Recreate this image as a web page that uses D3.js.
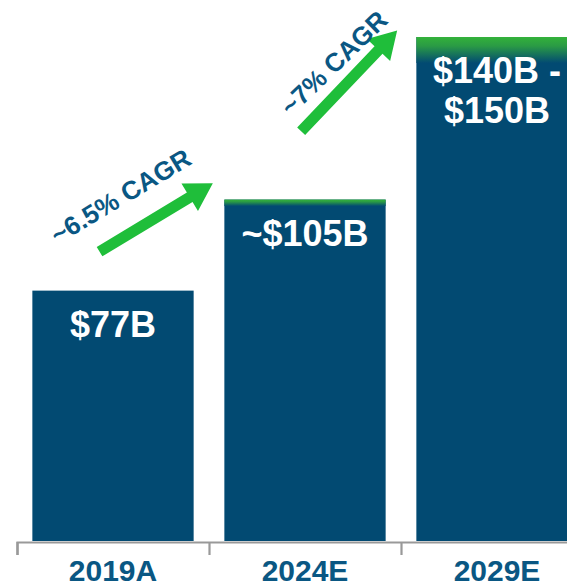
<!DOCTYPE html>
<html>
<head>
<meta charset="utf-8">
<script src="https://cdn.jsdelivr.net/npm/d3@7/dist/d3.min.js"></script>
<style>
  html, body { margin: 0; padding: 0; background: #fff; }
  svg { display: block; font-family: "Liberation Sans", Arial, sans-serif; }
</style>
</head>
<body>
<div id="chart"></div>
<script>
// chart data
const categories = ["2019A", "2024E", "2029E"];
const barLow = [77, 103, 147];    // where the green "range" cap starts
const barHigh = [77, 105, 155];   // top of bar
const valueLabels = [["$77B"], ["~$105B"], ["$140B -", "$150B"]];
const cagrLabels = ["~6.5% CAGR", "~7% CAGR"];
// growth arrows in (category index, value) space
const arrowFrom = [[0.43, 89], [1.48, 126]];
const arrowTo = [[1.02, 110], [1.98, 157]];
const cagrPos = [[0.54, 106], [1.65, 147]];
const cagrAngle = [-31, -44];

const w = 567, h = 588;
const baseY = 541;
const navy = "#024a72";
const labelBlue = "#0a5783";
const green = "#1fbe3a";

const svg = d3.select("#chart").append("svg")
  .attr("width", w)
  .attr("height", h);

// index scale spans the band boundaries (ticks sit between categories)
const xIdx = d3.scaleLinear().domain([0, 3]).range([17, 593]);
const x = d3.scaleBand()
  .domain(categories)
  .range([17, 593])
  .paddingInner(0.16)
  .paddingOuter(0.08);

const y = d3.scaleLinear().domain([0, 155]).range([baseY, 37]);

const defs = svg.append("defs");
const grad = defs.append("linearGradient")
  .attr("id", "cap")
  .attr("x1", 0).attr("y1", 0).attr("x2", 0).attr("y2", 1);
grad.append("stop").attr("offset", "0%").attr("stop-color", "#33b23a");
grad.append("stop").attr("offset", "35%").attr("stop-color", "#2a9a45");
grad.append("stop").attr("offset", "100%").attr("stop-color", navy);

const data = categories.map((c, i) => ({ cat: c, low: barLow[i], high: barHigh[i], lab: valueLabels[i] }));

// bars
svg.selectAll("rect.bar")
  .data(data)
  .enter()
  .append("rect")
  .attr("class", "bar")
  .attr("x", d => x(d.cat))
  .attr("y", d => y(d.high))
  .attr("width", x.bandwidth())
  .attr("height", d => baseY - y(d.high))
  .attr("fill", navy);

// green caps for estimated ranges
svg.selectAll("rect.cap")
  .data(data.filter(d => d.high > d.low))
  .enter()
  .append("rect")
  .attr("class", "cap")
  .attr("x", d => x(d.cat))
  .attr("y", d => y(d.high))
  .attr("width", x.bandwidth())
  .attr("height", d => y(d.low) - y(d.high))
  .attr("fill", "url(#cap)");

// value labels inside bars
data.forEach(d => {
  const t = svg.append("text")
    .attr("x", x(d.cat) + x.bandwidth() / 2)
    .attr("y", y(d.high) + 46)
    .attr("text-anchor", "middle")
    .attr("fill", "#fff")
    .attr("font-weight", "bold")
    .attr("font-size", 36);
  d.lab.forEach((line, j) => {
    t.append("tspan")
      .attr("x", x(d.cat) + x.bandwidth() / 2)
      .attr("dy", j === 0 ? 0 : 40)
      .text(line);
  });
});

// axis
const xAxis = d3.axisBottom(xIdx)
  .tickValues([0, 1, 2, 3])
  .tickFormat("")
  .tickSize(13)
  .tickSizeOuter(13);

const gx = svg.append("g")
  .attr("transform", `translate(0, ${baseY + 1})`)
  .call(xAxis);
gx.selectAll("path, line").attr("stroke", "#999").attr("stroke-width", 2.2);

svg.selectAll("text.cat")
  .data(categories)
  .enter()
  .append("text")
  .attr("class", "cat")
  .attr("x", d => x(d) + x.bandwidth() / 2)
  .attr("y", 581)
  .attr("text-anchor", "middle")
  .attr("fill", labelBlue)
  .attr("font-weight", "bold")
  .attr("font-size", 30)
  .text(d => d);

// growth arrows
function arrowPath(p0, p1) {
  const x0 = xIdx(p0[0]), y0 = y(p0[1]);
  const x1 = xIdx(p1[0]), y1 = y(p1[1]);
  const dx = x1 - x0, dy = y1 - y0;
  const len = Math.hypot(dx, dy);
  const ux = dx / len, uy = dy / len;
  const nx = -uy, ny = ux;
  const sw = 5.5, hw = 16, hl = 27;
  const bx = x1 - ux * hl, by = y1 - uy * hl;
  const pts = [
    [x0 + nx * sw, y0 + ny * sw],
    [bx + nx * sw, by + ny * sw],
    [bx + nx * hw, by + ny * hw],
    [x1, y1],
    [bx - nx * hw, by - ny * hw],
    [bx - nx * sw, by - ny * sw],
    [x0 - nx * sw, y0 - ny * sw]
  ];
  return "M" + pts.map(p => p.join(",")).join("L") + "Z";
}

svg.selectAll("path.arrow")
  .data(arrowFrom)
  .enter()
  .append("path")
  .attr("class", "arrow")
  .attr("d", (d, i) => arrowPath(d, arrowTo[i]))
  .attr("fill", green);

svg.selectAll("text.cagr")
  .data(cagrLabels)
  .enter()
  .append("text")
  .attr("class", "cagr")
  .attr("transform", (d, i) => `translate(${xIdx(cagrPos[i][0])}, ${y(cagrPos[i][1])}) rotate(${cagrAngle[i]})`)
  .attr("text-anchor", "middle")
  .attr("dominant-baseline", "central")
  .attr("fill", labelBlue)
  .attr("font-weight", "bold")
  .attr("font-size", 26)
  .text(d => d);
</script>
</body>
</html>
